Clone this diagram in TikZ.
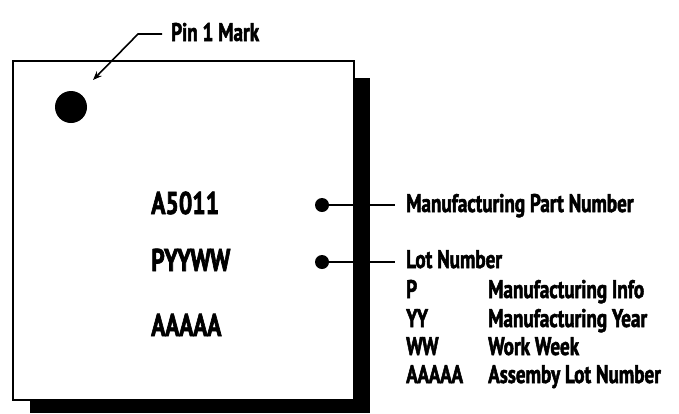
\documentclass[tikz,border=0pt]{standalone}
\usepackage{fontspec}
\newfontfamily\lblfont{PT Sans Bold}[FakeStretch=0.75,FakeBold=2]
\usetikzlibrary{arrows.meta}
\begin{document}
\begin{tikzpicture}[x=1pt,y=-1pt,
  lbl/.style={font=\fontsize{25.5}{25.5}\lblfont,inner sep=0pt,anchor=base west},
  big/.style={font=\fontsize{31.5}{31.5}\lblfont,inner sep=0pt,anchor=base west},
  wire/.style={line width=1.6pt},
  pdot/.style={circle,fill=black,inner sep=0pt,minimum size=14pt}]
\useasboundingbox (0,0) rectangle (679,413);
% shadow and package
\fill[black] (30,78) rectangle (370,413);
\draw[line width=1.5pt,fill=white] (13,61) rectangle (354,400);
% pin 1 dot
\node[circle,fill=black,inner sep=0pt,minimum size=32pt] (pin) at (71,107) {};
% pin label
\node[lbl] (pinlbl) at (171,41) {Pin 1 Mark};
\coordinate (pa) at (162,34);
\coordinate (pb) at (138,34);
\coordinate (ptip) at (93,80);
\draw[wire,-{Stealth[length=9pt,width=7pt]}] (pa) -- (pb) -- (ptip);
% package texts
\node[big] (t1) at (151,214) {A5011};
\node[big] (t2) at (151,271) {PYYWW};
\node[big] (t3) at (151,336) {AAAAA};
% dots and leaders
\node[pdot] (d1) at (322,205) {};
\node[pdot] (d2) at (322,262) {};
\coordinate (e1) at (395,205);
\coordinate (e2) at (395,262);
\draw[wire] (d1.center) -- (e1);
\draw[wire] (d2.center) -- (e2);
% legend
\node[lbl] (l1) at (406,212) {Manufacturing Part Number};
\node[lbl] (l2) at (406,268) {Lot Number};
\node[lbl] (k1) at (406,298) {P};
\node[lbl] (v1) at (488,298) {Manufacturing Info};
\node[lbl] (k2) at (406,327) {YY};
\node[lbl] (v2) at (488,327) {Manufacturing Year};
\node[lbl] (k3) at (406,355) {WW};
\node[lbl] (v3) at (488,355) {Work Week};
\node[lbl] (k4) at (406,383) {AAAAA};
\node[lbl] (v4) at (488,383) {Assemby Lot Number};
\end{tikzpicture}
\end{document}
